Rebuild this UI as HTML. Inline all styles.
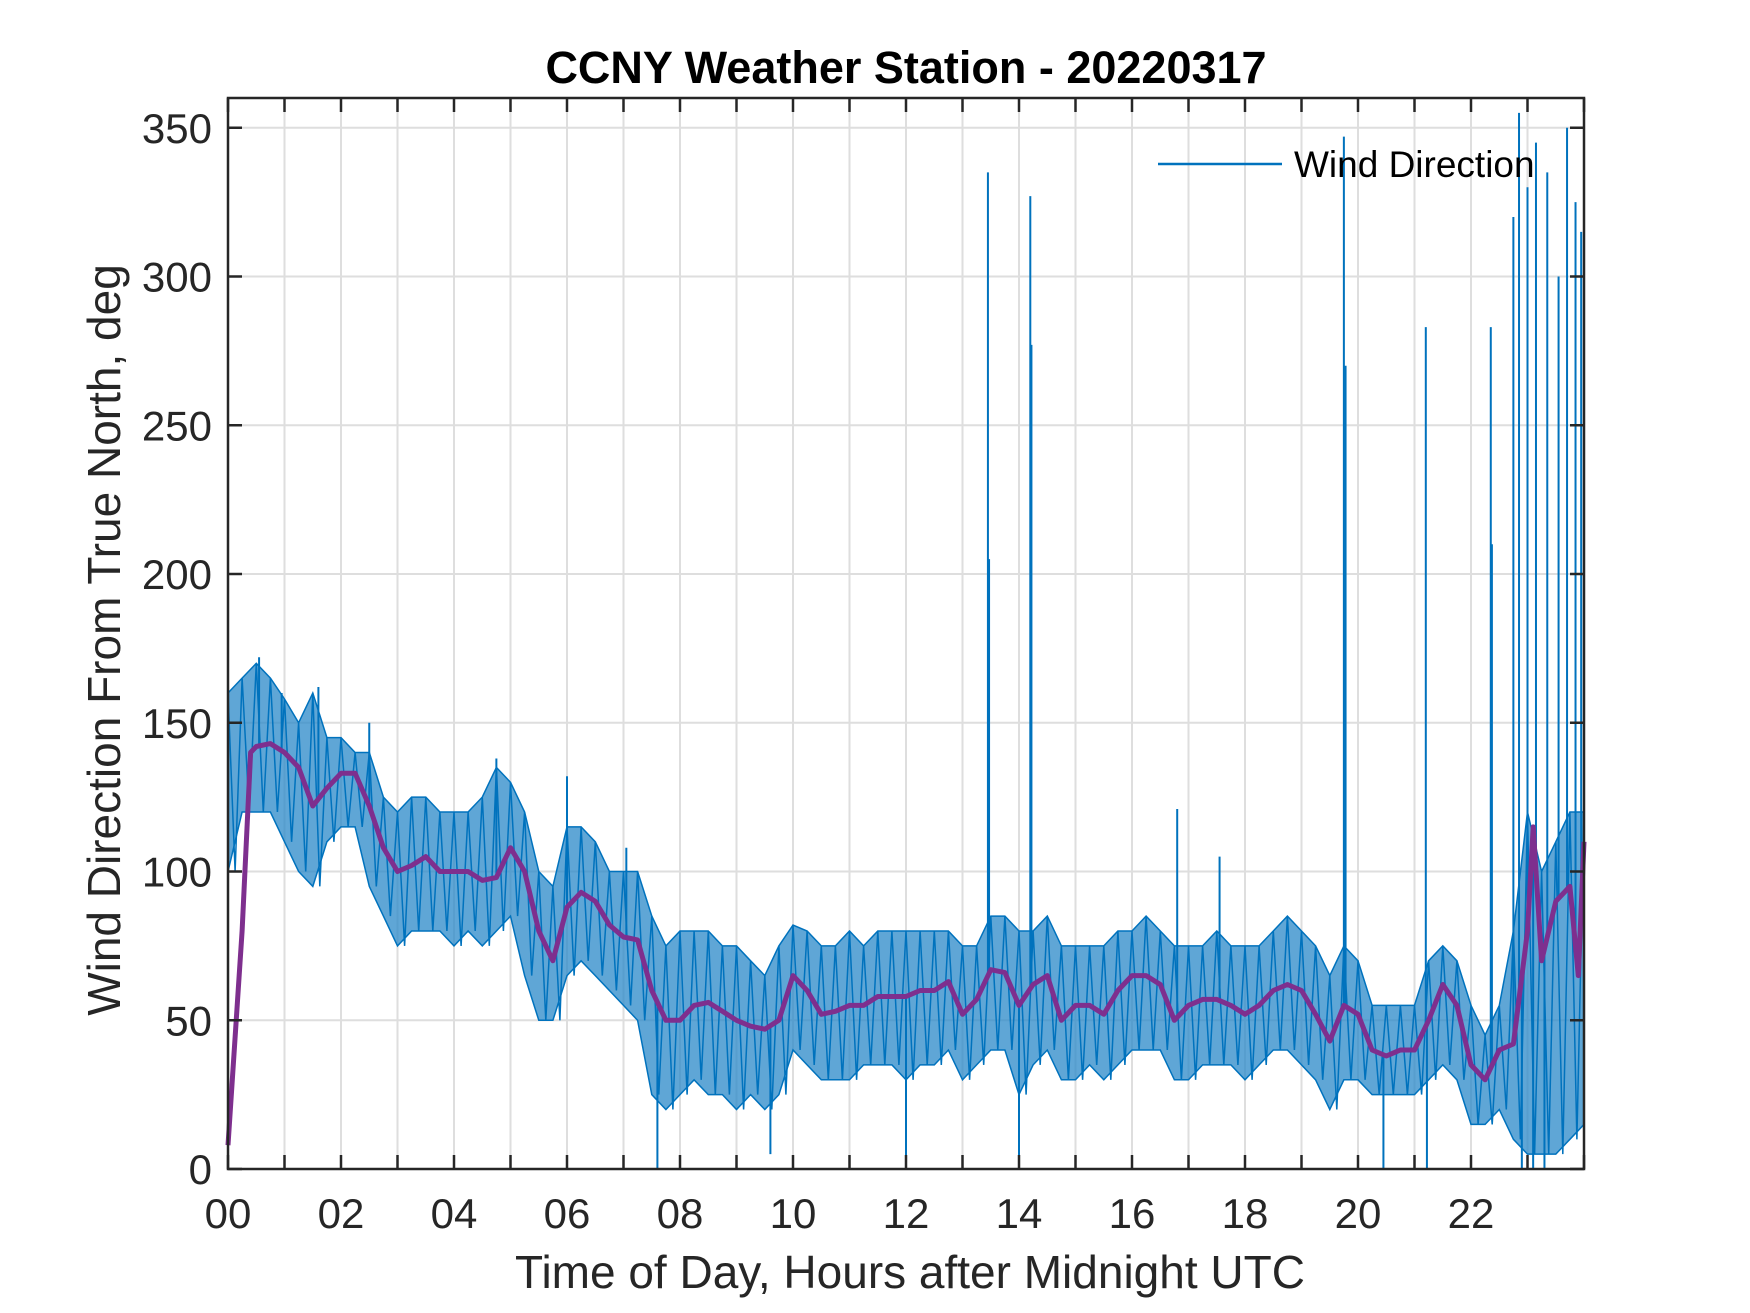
<!DOCTYPE html>
<html><head><meta charset="utf-8"><style>
html,body{margin:0;padding:0;background:#fff}
svg{display:block}
text{font-family:"Liberation Sans",Arial,sans-serif;fill:#262626}
</style></head><body>
<svg id="chart" width="1750" height="1313" viewBox="0 0 1750 1313" xmlns="http://www.w3.org/2000/svg">
<rect x="0" y="0" width="1750" height="1313" fill="#fff"/>
<g id="grid"></g>
<g id="plot"></g>
<g id="axes"></g>
<text x="906" y="83" text-anchor="middle" font-size="45" font-weight="bold" style="fill:#000">CCNY Weather Station - 20220317</text>
<text x="910" y="1288" text-anchor="middle" font-size="46">Time of Day, Hours after Midnight UTC</text>
<text transform="translate(120,640) rotate(-90)" text-anchor="middle" font-size="46">Wind Direction From True North, deg</text>
<g>
<line x1="1158" y1="164" x2="1282" y2="164" stroke="#0072BD" stroke-width="2.5"/>
<text x="1294" y="177" font-size="37" style="fill:#000">Wind Direction</text>
</g>
</svg>
<script>
const times=[0,0.25,0.5,0.75,1,1.25,1.5,1.75,2,2.25,2.5,2.75,3,3.25,3.5,3.75,4,4.25,4.5,4.75,5,5.25,5.5,5.75,6,6.25,6.5,6.75,7,7.25,7.5,7.75,8,8.25,8.5,8.75,9,9.25,9.5,9.75,10,10.25,10.5,10.75,11,11.25,11.5,11.75,12,12.25,12.5,12.75,13,13.25,13.5,13.75,14,14.25,14.5,14.75,15,15.25,15.5,15.75,16,16.25,16.5,16.75,17,17.25,17.5,17.75,18,18.25,18.5,18.75,19,19.25,19.5,19.75,20,20.25,20.5,20.75,21,21.25,21.5,21.75,22,22.25,22.5,22.75,23,23.25,23.5,23.75,24];
const upperValues=[160,165,170,165,158,150,160,145,145,140,140,125,120,125,125,120,120,120,125,135,130,120,100,95,115,115,110,100,100,100,85,75,80,80,80,75,75,70,65,75,82,80,75,75,80,75,80,80,80,80,80,80,75,75,85,85,80,80,85,75,75,75,75,80,80,85,80,75,75,75,80,75,75,75,80,85,80,75,65,75,70,55,55,55,55,70,75,70,55,45,55,80,120,100,110,120,120];
const lowerValues=[100,120,120,120,110,100,95,110,115,115,95,85,75,80,80,80,75,80,75,80,85,65,50,50,65,70,65,60,55,50,25,20,25,30,25,25,20,25,20,25,40,35,30,30,30,35,35,35,30,35,35,40,30,35,40,40,25,35,40,30,30,35,30,35,40,40,40,30,30,35,35,35,30,35,40,40,35,30,20,30,30,25,25,25,25,30,35,30,15,15,20,10,5,5,5,10,15];
const smoothTimes=[0,0.25,0.4,0.5,0.75,1,1.25,1.5,1.75,2,2.25,2.5,2.75,3,3.25,3.5,3.75,4,4.25,4.5,4.75,5,5.25,5.5,5.75,6,6.25,6.5,6.75,7,7.25,7.5,7.75,8,8.25,8.5,8.75,9,9.25,9.5,9.75,10,10.25,10.5,10.75,11,11.25,11.5,11.75,12,12.25,12.5,12.75,13,13.25,13.5,13.75,14,14.25,14.5,14.75,15,15.25,15.5,15.75,16,16.25,16.5,16.75,17,17.25,17.5,17.75,18,18.25,18.5,18.75,19,19.25,19.5,19.75,20,20.25,20.5,20.75,21,21.25,21.5,21.75,22,22.25,22.5,22.75,23,23.1,23.25,23.5,23.75,23.9,24];
const smoothValues=[8,80,140,142,143,140,135,122,128,133,133,122,108,100,102,105,100,100,100,97,98,108,100,80,70,88,93,90,82,78,77,60,50,50,55,56,53,50,48,47,50,65,60,52,53,55,55,58,58,58,60,60,63,52,57,67,66,55,62,65,50,55,55,52,60,65,65,62,50,55,57,57,55,52,55,60,62,60,52,43,55,52,40,38,40,40,50,62,55,35,30,40,42,80,115,70,90,95,65,110];
const spikeTimes=[0.55,0.95,1.6,2.5,4.75,6.0,7.05,7.6,9.6,12.0,13.45,13.47,14.0,14.2,14.22,16.8,17.55,19.75,19.78,20.45,21.2,21.22,22.35,22.37,22.75,22.85,22.9,23.0,23.1,23.15,23.3,23.35,23.55,23.7,23.85,23.95];
const spikeValues=[172,160,162,150,138,132,108,0,5,0,335,205,0,327,277,121,105,347,270,0,283,0,283,210,320,355,0,330,0,345,0,335,300,350,325,315];

const L=228,R=1584,T=98,B=1169;
const X0=0,X1=24,Y0=0,Y1=360;
const xs=v=>L+(v-X0)/(X1-X0)*(R-L);
const ys=v=>B-(v-Y0)/(Y1-Y0)*(B-T);
const NS='http://www.w3.org/2000/svg';
function mk(tag,attrs,parent){const e=document.createElementNS(NS,tag);for(const k in attrs)e.setAttribute(k,attrs[k]);parent.appendChild(e);return e;}
const grid=document.getElementById('grid'),plot=document.getElementById('plot'),axes=document.getElementById('axes');
const xTicks=[0,1,2,3,4,5,6,7,8,9,10,11,12,13,14,15,16,17,18,19,20,21,22,23,24];
const xTickLabels=['00','','02','','04','','06','','08','','10','','12','','14','','16','','18','','20','','22','',''];
const yTicks=[0,50,100,150,200,250,300,350];
const yTickLabels=['0','50','100','150','200','250','300','350'];
xTicks.forEach((t,i)=>{
  const x=xs(t);
  const g=mk('line',{x1:x,y1:T,x2:x,y2:B,stroke:'#dedede','stroke-width':2},grid);
  
  
  const a=mk('line',{x1:x,y1:B,x2:x,y2:B-14,stroke:'#262626','stroke-width':2.5},axes);
  
  
  const b=mk('line',{x1:x,y1:T,x2:x,y2:T+14,stroke:'#262626','stroke-width':2.5},axes);
  
  
  if(xTickLabels[i]){
    const tx=mk('text',{x:x,y:1228,'text-anchor':'middle','font-size':42},axes);
    tx.textContent=xTickLabels[i];
    
    
  }
});
yTicks.forEach((v,i)=>{
  const y=ys(v);
  const g=mk('line',{x1:L,y1:y,x2:R,y2:y,stroke:'#dedede','stroke-width':2},grid);
  
  
  const a=mk('line',{x1:L,y1:y,x2:L+14,y2:y,stroke:'#262626','stroke-width':2.5},axes);
  
  
  const b=mk('line',{x1:R,y1:y,x2:R-14,y2:y,stroke:'#262626','stroke-width':2.5},axes);
  
  
  const tx=mk('text',{x:212,y:y+15,'text-anchor':'end','font-size':42},axes);
  tx.textContent=yTickLabels[i];
  
  
});
let d='';
times.forEach((t,i)=>{d+=(i?'L':'M')+xs(t).toFixed(1)+','+ys(upperValues[i]).toFixed(1);});
for(let i=times.length-1;i>=0;i--){d+='L'+xs(times[i]).toFixed(1)+','+ys(lowerValues[i]).toFixed(1);}
d+='Z';
const band=mk('path',{d:d,fill:'#2a88c8','fill-opacity':0.75,stroke:'#0072BD','stroke-width':1.5},plot);


let z='';
times.forEach((t,i)=>{
  z+=(i?'L':'M')+xs(t).toFixed(1)+','+ys(upperValues[i]).toFixed(1);
  if(i<times.length-1){z+='L'+xs((t+times[i+1])/2).toFixed(1)+','+ys(lowerValues[i]).toFixed(1);}
});
const zz=mk('path',{d:z,fill:'none',stroke:'#0072BD','stroke-width':1.5},plot);


function interp(arrT,arrV,t){for(let i=0;i<arrT.length-1;i++){if(t>=arrT[i]&&t<=arrT[i+1]){const f=(t-arrT[i])/(arrT[i+1]-arrT[i]);return arrV[i]+f*(arrV[i+1]-arrV[i]);}}return arrV[arrV.length-1];}
spikeTimes.forEach((t,i)=>{
  const base=interp(smoothTimes,smoothValues,t);
  const s=mk('line',{x1:xs(t),y1:ys(base),x2:xs(t),y2:ys(spikeValues[i]),stroke:'#0072BD','stroke-width':2},plot);
  
  
});
let p='';
smoothTimes.forEach((t,i)=>{p+=(i?'L':'M')+xs(t).toFixed(1)+','+ys(smoothValues[i]).toFixed(1);});
const sm=mk('path',{d:p,fill:'none',stroke:'#7E2F8E','stroke-width':5,'stroke-linejoin':'round'},plot);


const box=mk('rect',{x:L,y:T,width:R-L,height:B-T,fill:'none',stroke:'#262626','stroke-width':2.5},axes);


</script>
</body></html>
